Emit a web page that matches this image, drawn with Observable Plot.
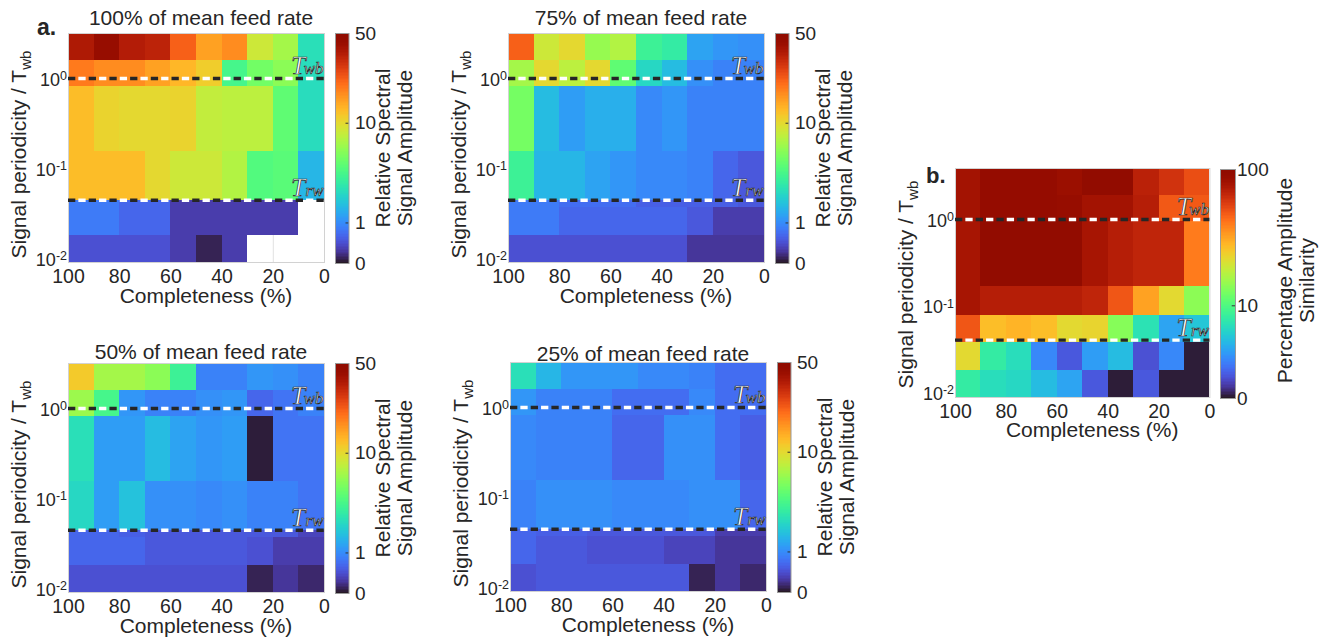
<!DOCTYPE html>
<html>
<head>
<meta charset="utf-8">
<script src="https://cdn.jsdelivr.net/npm/d3@7"></script>
<script src="https://cdn.jsdelivr.net/npm/@observablehq/plot@0.6"></script>
<style>
  body { margin: 0; background: #fff; }
  #fig { position: relative; width: 1326px; height: 639px; overflow: hidden; background: #fff; }
  #fig svg { position: absolute; overflow: visible; }
</style>
</head>
<body>
<div id="fig"></div>
<script>
// ---------------- data ----------------
const completeness = [100, 90, 80, 70, 60, 50, 40, 30, 20, 10, 0];   // column edges (%)
const completenessTicks = [100, 80, 60, 40, 20, 0];
const periodTicks = [1, 0.1, 0.01];
// row edges of signal periodicity / Twb (top to bottom)
const periodEdgesA = [3.16, 1.60, 0.807, 0.153, 0.0445, 0.0366, 0.0179, 0.00904];
const periodEdgesB = [3.88, 1.91, 0.94, 0.166, 0.0783, 0.0375, 0.0178, 0.00875];
const periodTwb = 1;
const periodTrwA = 0.0445;
const periodTrwB = 0.0403;

// Relative spectral signal amplitude (rows top->bottom, columns completeness 100->0)
const amp100 = [
  [36, 43, 35, 33, 22, 15, 17, 8.5, 6.7, 2.5],
  [19, 17, 17, 15, 13, 11, 3.6, 5.0, 5.8, 2.4],
  [12.4, 10.5, 10, 10, 10.5, 8, 7.7, 7.7, 4.4, 2.4],
  [12.4, 12.4, 12.4, 10, 8.5, 8.5, 7.3, 4.0, 4.2, 1.57],
  [0.8, 0.8, 0.6, 0.6, 0.27, 0.27, 0.27, 0.27, 0.27, null],
  [0.8, 0.8, 0.6, 0.6, 0.27, 0.27, 0.27, 0.27, 0.27, null],
  [0.42, 0.42, 0.42, 0.42, 0.27, 0.08, 0.27, null, null, null]
];
const amp75 = [
  [22, 8.5, 10, 6.2, 7.3, 3.3, 2.95, 1.28, 1.1, 1.03],
  [6.7, 10, 7.7, 10, 4.4, 2.26, 1.67, 1.03, 0.88, 0.88],
  [5.1, 1.67, 1.19, 1.45, 1.45, 0.95, 1.1, 0.88, 0.88, 0.88],
  [3.3, 1.57, 1.57, 1.28, 1.1, 0.95, 0.95, 0.88, 0.6, 0.48],
  [0.8, 0.8, 0.67, 0.67, 0.67, 0.54, 0.54, 0.54, 0.54, 0.48],
  [0.8, 0.8, 0.6, 0.6, 0.6, 0.6, 0.6, 0.48, 0.27, 0.27],
  [0.42, 0.42, 0.42, 0.42, 0.42, 0.42, 0.42, 0.22, 0.22, 0.22]
];
const amp50 = [
  [11.3, 6.7, 6.7, 5.8, 3.3, 0.88, 0.88, 1.1, 1.03, 0.88],
  [6.4, 3.6, 1.1, 0.88, 0.88, 1.03, 1.1, 0.6, 0.73, 0.88],
  [2.5, 1.19, 1.19, 1.67, 1.28, 1.1, 1.19, 0.04, 0.73, 0.73],
  [2.26, 1.19, 1.78, 1.03, 1.03, 0.95, 1.03, 0.88, 0.88, 0.73],
  [0.6, 0.6, 0.54, 0.48, 0.48, 0.48, 0.48, 0.48, 0.48, 0.32],
  [0.6, 0.6, 0.6, 0.48, 0.48, 0.48, 0.48, 0.42, 0.27, 0.27],
  [0.42, 0.42, 0.42, 0.42, 0.42, 0.42, 0.42, 0.08, 0.22, 0.12]
];
const amp25 = [
  [2.5, 1.57, 1.1, 1.1, 1.1, 0.95, 0.95, 0.88, 0.67, 0.67],
  [1.1, 0.88, 0.88, 0.88, 0.67, 0.67, 0.67, 0.95, 0.67, 0.67],
  [0.95, 0.88, 0.88, 0.88, 0.6, 0.6, 1.03, 1.03, 0.67, 0.54],
  [0.88, 1.03, 1.03, 1.03, 0.95, 0.95, 0.95, 1.03, 1.03, 0.6],
  [0.6, 0.54, 0.54, 0.48, 0.48, 0.48, 0.48, 0.48, 0.27, 0.27],
  [0.6, 0.48, 0.48, 0.42, 0.42, 0.42, 0.32, 0.32, 0.22, 0.22],
  [0.42, 0.48, 0.48, 0.48, 0.48, 0.48, 0.48, 0.08, 0.22, 0.12]
];
// Percentage amplitude similarity (panel b)
const similarity = [
  [80, 90, 90, 90, 85, 93, 93, 70, 62, 53],
  [80, 90, 90, 90, 88, 80, 80, 72, 50, 50],
  [78, 93, 93, 93, 93, 78, 72, 68, 68, 42],
  [78, 72, 72, 72, 72, 68, 51, 34, 23.5, 14.5],
  [51, 28.7, 30.5, 28.7, 23.5, 24.4, 14, 6.8, 3.5, 5],
  [23.5, 7.7, 6.4, 2.6, 1.36, 3.27, 4.5, 1.2, 2.6, 0.11],
  [7.7, 6.4, 6, 4.5, 3.5, 1.36, 0.11, 1.36, 0.11, 0.11]
];
const ampTicks = [0, 1, 10, 50];
const simTicks = [0, 10, 100];
const feedTitles = ["100% of mean feed rate", "75% of mean feed rate", "50% of mean feed rate", "25% of mean feed rate"];
const gridCompleteness = [80, 60, 40, 20];

// ---------------- styles / layout ----------------
const FONT = '"Liberation Sans", Arial, Helvetica, sans-serif';
const SERIF = '"Liberation Serif", "Times New Roman", serif';
const INK = "#262626";
const colorA = {type: "symlog", constant: 1, domain: [0, 50], scheme: "turbo"};
const colorB = {type: "symlog", constant: 3.3, domain: [0, 100], scheme: "turbo"};
const ML = 70, MT = 40, MR = 14, MB = 52;

const fig = document.getElementById("fig");

function place(svg, left, top) {
  svg.style.left = left + "px";
  svg.style.top = top + "px";
  fig.appendChild(svg);
}

function addText(svg, o) {
  const t = d3.select(svg).append("text")
    .attr("transform", `translate(${o.x},${o.y})` + (o.rotate ? ` rotate(${o.rotate})` : ""))
    .attr("text-anchor", o.anchor || "middle")
    .attr("font-size", o.size)
    .attr("font-weight", o.weight || "normal")
    .attr("font-family", FONT)
    .attr("fill", INK)
    .text(o.text);
  if (o.sub) t.append("tspan").attr("font-size", o.size * 0.72).attr("dy", o.size * 0.22).text(o.sub);
  return t;
}

function powerTicks(svg) {
  d3.select(svg).selectAll("text").each(function () {
    const m = /^10\^(-?\d+)$/.exec(this.textContent);
    if (!m) return;
    const t = d3.select(this);
    t.text(null).attr("dy", null).attr("y", null).attr("font-size", 18);
    t.append("tspan").attr("dy", 7.4).text("10");
    t.append("tspan").attr("dy", -5.5).attr("font-size", 12.5).text(m[1]);
  });
}

function heatmap(matrix, edges, trw, color, g) {
  const cells = [];
  matrix.forEach((row, i) => row.forEach((v, j) => {
    if (v != null) cells.push({c1: completeness[j], c2: completeness[j + 1], p1: edges[i], p2: edges[i + 1], v});
  }));
  const marks = [{p: periodTwb, sub: "wb"}, {p: trw, sub: "rw"}];
  const svg = Plot.plot({
    width: ML + g.w + MR, height: MT + g.h + MB,
    marginLeft: ML, marginTop: MT, marginRight: MR, marginBottom: MB,
    style: {background: "transparent", fontFamily: FONT, fontSize: "19.5px", color: INK},
    x: {domain: [100, 0], ticks: completenessTicks, tickSize: 0, tickPadding: 6.5, label: null, tickFormat: d => String(d)},
    y: {type: "log", domain: [edges[edges.length - 1], edges[0]], ticks: periodTicks, tickSize: 0, tickPadding: 1.5,
        label: null, tickFormat: d => "10^" + Math.round(Math.log10(d))},
    color,
    marks: [
      Plot.ruleX(gridCompleteness, {stroke: "#e2e2e2"}),
      Plot.rect(cells, {x1: "c1", x2: "c2", y1: "p1", y2: "p2", fill: "v", shapeRendering: "crispEdges"}),
      Plot.frame({stroke: "#d2d2d2"}),
      Plot.ruleY([periodTwb, trw], {stroke: "#262626", strokeWidth: 3.4, strokeDasharray: "7.3 13.4"}),
      Plot.ruleY([periodTwb, trw], {stroke: "white", strokeWidth: 3.4, strokeDasharray: "7.3 13.4", strokeDashoffset: 10.35}),
      Plot.text(marks, {x: 0, y: "p", text: "sub", textAnchor: "end", lineAnchor: "bottom", dx: -1, dy: -4,
        fontSize: 17, fontStyle: "italic", fontFamily: SERIF, fill: "white", stroke: "#2a2a2a", strokeWidth: 0.7, paintOrder: "normal"}),
      Plot.text(marks, {x: 0, y: "p", text: () => "T", textAnchor: "end", lineAnchor: "bottom", dx: -19, dy: -4,
        fontSize: 26, fontStyle: "italic", fontFamily: SERIF, fill: "white", stroke: "#2a2a2a", strokeWidth: 0.7, paintOrder: "normal"})
    ]
  });
  powerTicks(svg);
  const cx = ML + g.w / 2;
  if (g.title) addText(svg, {x: cx + 5, y: g.titleY - g.top + MT, size: 21, text: g.title});
  addText(svg, {x: ML - 41.6, y: MT + g.h / 2 + g.ylabOff, size: 21, rotate: -90, text: "Signal periodicity / T", sub: "wb"});
  addText(svg, {x: cx + 10, y: MT + g.h + 40.5, size: 21, text: "Completeness (%)"});
  place(svg, g.left - ML, g.top - MT);
}

function colorbar(color, ticks, g) {
  const s = d3.scaleSymlog().constant(color.constant).domain(color.domain).range([0, 1]);
  const N = 160;
  const bins = d3.range(N).map(i => ({lo: s.invert(i / N), hi: s.invert((i + 1) / N), mid: s.invert((i + 0.5) / N)}));
  const CT = 12, CB = 12, CR = 120;
  const svg = Plot.plot({
    width: g.w + CR, height: g.h + CT + CB,
    marginLeft: 0, marginRight: CR, marginTop: CT, marginBottom: CB,
    style: {background: "transparent", fontFamily: FONT, fontSize: "19px", color: INK},
    x: {domain: [0, 1], axis: null},
    y: {type: "symlog", constant: color.constant, domain: color.domain, ticks, tickSize: 0, tickPadding: g.pad,
        axis: "right", label: null, tickFormat: d => String(d)},
    color,
    marks: [
      Plot.rect(bins, {x1: 0, x2: 1, y1: "lo", y2: "hi", fill: "mid", shapeRendering: "crispEdges"}),
      Plot.ruleY(ticks.slice(1, -1), {x1: 0.78, x2: 1, stroke: "#333", strokeWidth: 1}),
      Plot.frame({stroke: "#9a9a9a"})
    ]
  });
  const cy = CT + g.h / 2 + (g.labOff || 0);
  g.lines.forEach((line, i) => addText(svg, {x: g.offs[i], y: cy, size: 21, rotate: -90, text: line}));
  place(svg, g.left, g.top - CT);
}

// ---------------- build ----------------
const panelA = [
  {values: amp100, left: 68.3, top: 33.3, titleY: 25.5, cb: {left: 335, top: 33.3}},
  {values: amp75, left: 508.3, top: 33.3, titleY: 25, cb: {left: 775, top: 33.3}},
  {values: amp50, left: 68.3, top: 363.3, titleY: 359, cb: {left: 334.5, top: 363.3}},
  {values: amp25, left: 510.3, top: 361.5, titleY: 360, cb: {left: 777, top: 361.7}}
];
panelA.forEach((p, i) => {
  heatmap(p.values, periodEdgesA, periodTrwA, colorA,
    {left: p.left, top: p.top, w: 256, h: 229, title: feedTitles[i], titleY: p.titleY, ylabOff: 7});
  colorbar(colorA, ampTicks,
    {left: p.cb.left, top: p.cb.top, w: 13.5, h: 230, pad: 6, lines: ["Relative Spectral", "Signal Amplitude"], offs: [55, 77]});
});
heatmap(similarity, periodEdgesB, periodTrwB, colorB,
  {left: 955.3, top: 168.3, w: 254.4, h: 229, title: null, ylabOff: 2});
colorbar(colorB, simTicks,
  {left: 1220, top: 169.3, w: 15, h: 229, pad: 1.5, lines: ["Percentage Amplitude", "Similarity"], offs: [72, 93.5], labOff: -3});

// panel letters
const over = d3.create("svg").attr("width", 1326).attr("height", 639).style("left", "0px").style("top", "0px").node();
addText(over, {x: 37, y: 35, size: 23, weight: "bold", anchor: "start", text: "a."});
addText(over, {x: 926, y: 183, size: 22, weight: "bold", anchor: "start", text: "b."});
fig.appendChild(over);
</script>
</body>
</html>
